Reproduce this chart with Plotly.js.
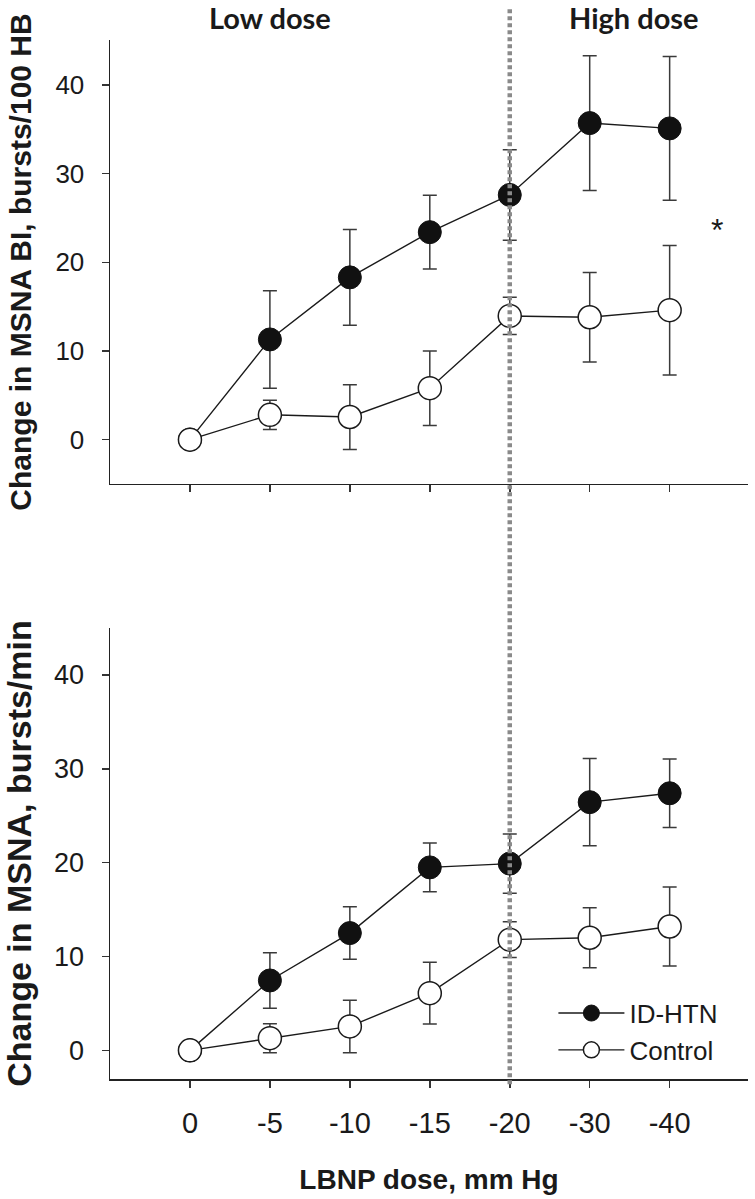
<!DOCTYPE html>
<html>
<head>
<meta charset="utf-8">
<script src="https://cdn.plot.ly/plotly-3.0.1.min.js"></script>
<style>
html, body { margin: 0; padding: 0; background: #fff; }
#chart { width: 755px; height: 1199px; }
</style>
</head>
<body>
<div id="chart"></div>
<script>
// Categories (LBNP dose, mm Hg)
var doseLabels = ['0', '-5', '-10', '-15', '-20', '-30', '-40'];

// Top panel: change in MSNA burst incidence (bursts/100 HB)
var biHtn    = [0, 11.3, 18.3, 23.4, 27.6, 35.7, 35.1];
var biHtnErr = [0, 5.5, 5.4, 4.15, 5.1, 7.6, 8.1];
var biCtl    = [0, 2.8, 2.55, 5.8, 13.95, 13.8, 14.6];
var biCtlErr = [0, 1.65, 3.65, 4.2, 2.1, 5.05, 7.3];

// Bottom panel: change in MSNA burst frequency (bursts/min)
var mbHtn    = [0, 7.45, 12.5, 19.5, 19.9, 26.45, 27.4];
var mbHtnErr = [0, 2.95, 2.8, 2.6, 3.15, 4.65, 3.65];
var mbCtl    = [0, 1.3, 2.55, 6.1, 11.8, 12.0, 13.2];
var mbCtlErr = [0, 1.55, 2.8, 3.3, 1.9, 3.2, 4.2];

var yTicks = [0, 10, 20, 30, 40];
var seriesNames = ['ID-HTN', 'Control'];
var boundaryDose = '-20';

var FONT = 'Liberation Sans';
var INK = '#1a1a1a';

function errBar(arr) {
  return { type: 'data', array: arr, visible: true, color: '#3a3a3a', thickness: 1.5, width: 7 };
}
function htnTrace(y, e, xa, ya, show) {
  return {
    x: doseLabels, y: y, xaxis: xa, yaxis: ya, name: seriesNames[0], showlegend: show,
    type: 'scatter', mode: 'lines+markers', cliponaxis: false,
    line: { color: INK, width: 1.4 },
    marker: { symbol: 'circle', size: 23, color: '#111111', line: { color: '#111111', width: 1 } },
    error_y: errBar(e)
  };
}
function ctlTrace(y, e, xa, ya, show) {
  return {
    x: doseLabels, y: y, xaxis: xa, yaxis: ya, name: seriesNames[1], showlegend: show,
    type: 'scatter', mode: 'lines+markers', cliponaxis: false,
    line: { color: INK, width: 1.4 },
    marker: { symbol: 'circle', size: 23, color: '#ffffff', line: { color: INK, width: 1.5 } },
    error_y: errBar(e)
  };
}

var data = [
  htnTrace(biHtn, biHtnErr, 'x2', 'y2', false),
  ctlTrace(biCtl, biCtlErr, 'x2', 'y2', false),
  htnTrace(mbHtn, mbHtnErr, 'x', 'y', true),
  ctlTrace(mbCtl, mbCtlErr, 'x', 'y', true)
];

var xCommon = {
  type: 'category', range: [-1.0, 6.98], showgrid: false, zeroline: false,
  showline: true, linecolor: '#222', linewidth: 1.5,
  ticks: 'outside', ticklen: 7, tickwidth: 1.5, tickcolor: '#333'
};

var boundaryIdx = doseLabels.indexOf(boundaryDose);

var layout = {
  width: 755, height: 1199,
  margin: { l: 110, r: 7, t: 40, b: 120 },
  paper_bgcolor: '#ffffff', plot_bgcolor: '#ffffff',
  font: { family: FONT, color: INK },
  showlegend: true,
  legend: {
    x: 0.695, xanchor: 'left', y: 0.086, yanchor: 'top',
    bgcolor: 'rgba(0,0,0,0)', borderwidth: 0,
    font: { family: FONT, size: 26, color: INK },
    itemwidth: 66, tracegroupgap: 0
  },
  xaxis: Object.assign({}, xCommon, {
    domain: [0, 1], anchor: 'y',
    tickfont: { family: FONT, size: 29, color: INK },
    ticklabelstandoff: 11,
    title: { text: 'LBNP dose, mm Hg', font: { family: FONT, size: 28, weight: 700, color: INK }, standoff: 31 }
  }),
  xaxis2: Object.assign({}, xCommon, {
    domain: [0, 1], anchor: 'y2', matches: 'x', showticklabels: false
  }),
  yaxis: {
    domain: [0, 0.434], anchor: 'x', range: [-3.05, 45.0],
    tickvals: yTicks, showgrid: false, zeroline: false,
    showline: true, linecolor: '#222', linewidth: 1.5,
    ticks: 'outside', ticklen: 7, tickwidth: 1.5, tickcolor: '#333',
    tickfont: { family: FONT, size: 27, color: INK },
    ticklabelstandoff: 12,
    title: { text: 'Change in MSNA, bursts/min', font: { family: FONT, size: 34, weight: 700, color: INK }, standoff: 16 }
  },
  yaxis2: {
    domain: [0.5727, 1], anchor: 'x2', range: [-5.0, 45.07],
    tickvals: yTicks, showgrid: false, zeroline: false,
    showline: true, linecolor: '#222', linewidth: 1.5,
    ticks: 'outside', ticklen: 7, tickwidth: 1.5, tickcolor: '#333',
    tickfont: { family: FONT, size: 26, color: INK },
    ticklabelstandoff: 12,
    title: { text: 'Change in MSNA BI, bursts/100 HB', font: { family: FONT, size: 30, weight: 700, color: INK }, standoff: 15 }
  },
  shapes: [{
    type: 'line', xref: 'x', yref: 'paper', x0: boundaryIdx, x1: boundaryIdx, y0: -0.005, y1: 1.032,
    line: { color: '#8a8a8a', width: 4.5, dash: '4px,3px' }, layer: 'above'
  }],
  annotations: [
    { text: 'Low dose', xref: 'paper', yref: 'paper', x: 0.2508, y: 1.022, showarrow: false,
      xanchor: 'center', yanchor: 'middle', font: { family: 'Lato, Arial', size: 29, weight: 700, color: INK } },
    { text: 'High dose', xref: 'paper', yref: 'paper', x: 0.8213, y: 1.022, showarrow: false,
      xanchor: 'center', yanchor: 'middle', font: { family: 'Lato, Arial', size: 29, weight: 700, color: INK } },
    { text: '*', xref: 'paper', yref: 'paper', x: 0.951, y: 0.817, showarrow: false,
      xanchor: 'center', yanchor: 'middle', font: { family: FONT, size: 32, color: INK } }
  ]
};

Plotly.newPlot('chart', data, layout, { displayModeBar: false, staticPlot: true });
</script>
</body>
</html>
